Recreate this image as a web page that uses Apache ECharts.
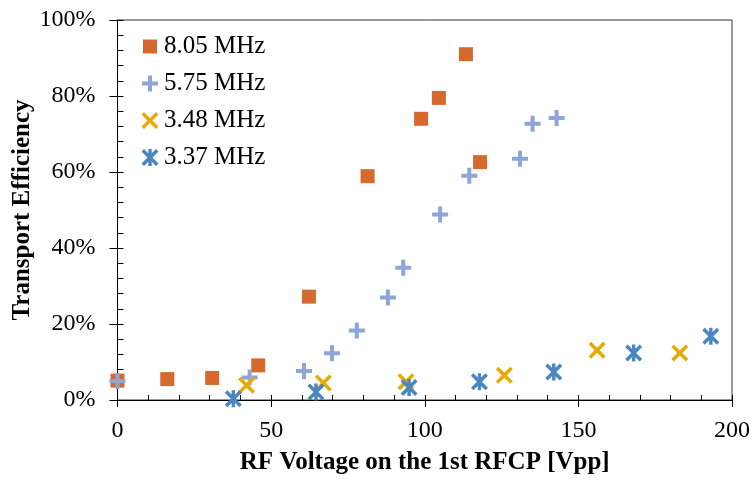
<!DOCTYPE html>
<html>
<head>
<meta charset="utf-8">
<script src="https://cdn.jsdelivr.net/npm/echarts@6/dist/echarts.min.js"></script>
<style>
  html, body { margin: 0; padding: 0; background: #fff; }
  #chart { width: 756px; height: 480px; }
</style>
</head>
<body>
<div id="chart"></div>
<script>
// Transport efficiency vs. RF voltage on the 1st RFCP, one series per RF frequency
const seriesNames = ['8.05 MHz', '5.75 MHz', '3.48 MHz', '3.37 MHz'];

const v805 = [0, 16.2, 30.8, 45.8, 62.3, 81.4, 98.8, 104.6, 113.4, 118.0];
const e805 = [5.1, 5.5, 5.8, 9.1, 27.2, 58.9, 74.0, 79.5, 91.0, 62.6];

const v575 = [0, 43.0, 60.7, 69.8, 77.9, 88.0, 93.0, 105.0, 114.5, 131.0, 135.1, 142.9];
const e575 = [5.0, 5.9, 7.6, 12.3, 18.3, 27.0, 34.8, 48.8, 59.0, 63.5, 72.7, 74.2];

const v348 = [42.0, 67.0, 93.9, 125.9, 156.1, 183.0];
const e348 = [3.9, 4.5, 4.8, 6.5, 13.1, 12.4];

const v337 = [37.7, 64.6, 94.9, 117.8, 142.0, 168.0, 193.1];
const e337 = [0.3, 2.1, 3.3, 4.8, 7.4, 12.4, 16.8];

const xTicks = { min: 0, max: 200, step: 50 };
const yTicks = { min: 0, max: 100, step: 20 };

const colors = ['#D6692D', '#8EA5D9', '#E6AA03', '#4A86C0'];

// marker outlines, drawn in an 18x18 box (the leading moves fix the box size)
const BOX = 'M0,0M18,18';
const markerSquare = 'path://' + BOX + 'M2,2H16V16H2Z';
const markerPlus = 'path://' + BOX + 'M7,1H11V7H17V11H11V17H7V11H1V7H7Z';
const crossPts = 'M0.5,3L3,0.5L9,6.5L15,0.5L17.5,3L11.5,9L17.5,15L15,17.5L9,11.5L3,17.5L0.5,15L6.5,9Z';
const markerCross = 'path://' + BOX + crossPts;
const markerStar = 'path://' + BOX + crossPts + 'M7.3,0.5H10.7V17.5H7.3Z';
const markers = [markerSquare, markerPlus, markerCross, markerStar];

const xs = [v805, v575, v348, v337];
const ys = [e805, e575, e348, e337];

const serif = '"Liberation Serif", "Times New Roman", serif';

const chart = echarts.init(document.getElementById('chart'), null, { renderer: 'canvas' });

const baseX = { type: 'value', min: xTicks.min, max: xTicks.max, interval: xTicks.step, splitLine: { show: false } };
const baseY = { type: 'value', min: yTicks.min, max: yTicks.max, interval: yTicks.step, splitLine: { show: false } };

chart.setOption({
  backgroundColor: '#fff',
  animation: false,
  grid: {
    left: 117.5, right: 24, top: 20, bottom: 80,
    outerBoundsMode: 'none', containLabel: false,
    show: true, borderColor: '#333', borderWidth: 1
  },
  legend: {
    orient: 'vertical',
    left: 136,
    top: 29,
    itemWidth: 18,
    itemHeight: 18,
    itemGap: 12,
    textStyle: { fontFamily: serif, fontSize: 25, color: '#000', lineHeight: 24 },
    data: seriesNames.map((n, i) => ({ name: n, icon: markers[i] }))
  },
  xAxis: [
    Object.assign({}, baseX, {
      position: 'bottom',
      name: 'RF Voltage on the 1st RFCP [Vpp]',
      nameLocation: 'middle',
      nameGap: 50,
      nameMoveOverlap: false,
      nameTextStyle: { fontFamily: serif, fontSize: 25, fontWeight: 'bold', color: '#000' },
      axisLine: { show: true, lineStyle: { color: '#000', width: 1 } },
      axisTick: { show: true, inside: false, length: 7, lineStyle: { color: '#000' } },
      axisLabel: { fontFamily: serif, fontSize: 24, color: '#000', margin: 19 }
    }),
    Object.assign({}, baseX, {
      position: 'bottom',
      axisLine: { show: false },
      axisLabel: { show: false },
      axisTick: { show: true, inside: true, length: 5, lineStyle: { color: '#000' } },
      minorTick: { show: true, splitNumber: 5, length: 5, lineStyle: { color: '#000' } }
    })
  ],
  yAxis: [
    Object.assign({}, baseY, {
      position: 'left',
      name: 'Transport Efficiency',
      nameLocation: 'middle',
      nameGap: 82,
      nameMoveOverlap: false,
      nameTextStyle: { fontFamily: serif, fontSize: 25, fontWeight: 'bold', color: '#000' },
      axisLine: { show: true, lineStyle: { color: '#000', width: 1 } },
      axisTick: { show: true, inside: false, length: 8, lineStyle: { color: '#000' } },
      axisLabel: { fontFamily: serif, fontSize: 24, color: '#000', margin: 22, formatter: '{value}%' }
    }),
    Object.assign({}, baseY, {
      position: 'left',
      axisLine: { show: false },
      axisLabel: { show: false },
      axisTick: { show: true, inside: true, length: 6, lineStyle: { color: '#000' } },
      minorTick: { show: true, splitNumber: 5, length: 6, lineStyle: { color: '#000' } }
    })
  ],
  series: seriesNames.map((n, i) => ({
    name: n,
    type: 'scatter',
    xAxisIndex: 0,
    yAxisIndex: 0,
    symbol: markers[i],
    symbolSize: 18,
    itemStyle: { color: colors[i], opacity: 1 },
    emphasis: { disabled: true },
    data: xs[i].map((x, k) => [x, ys[i][k]])
  }))
});
</script>
</body>
</html>
